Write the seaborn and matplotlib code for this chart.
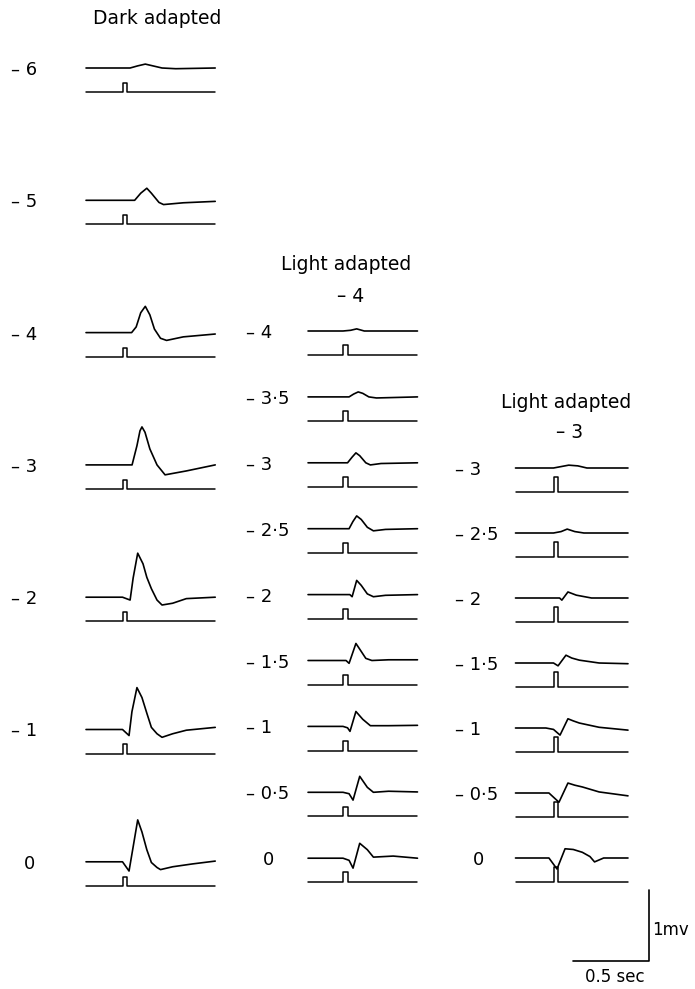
import matplotlib
matplotlib.use("Agg")
import matplotlib.pyplot as plt
import seaborn as sns

# intensity of the test flash (log units) for each trace
dark_labels = ["– 6", "– 5", "– 4", "– 3", "– 2", "– 1", "0"]
light4_labels = ["– 4", "– 3·5", "– 3", "– 2·5", "– 2", "– 1·5", "– 1", "– 0·5", "0"]
light3_labels = ["– 3", "– 2·5", "– 2", "– 1·5", "– 1", "– 0·5", "0"]

# ERG traces: time after flash (s) and potential (mV)
dark_t = [
    [-0.24, 0.0, 0.05, 0.10, 0.15, 0.20, 0.26, 0.35, 0.61],
    [-0.24, 0.0, 0.08, 0.12, 0.16, 0.19, 0.24, 0.27, 0.40, 0.61],
    [-0.24, 0.0, 0.06, 0.09, 0.12, 0.15, 0.18, 0.21, 0.25, 0.29, 0.40, 0.61],
    [-0.24, 0.0, 0.063, 0.095, 0.115, 0.128, 0.148, 0.18, 0.227, 0.28, 0.42, 0.61],
    [-0.24, 0.0, 0.05, 0.07, 0.10, 0.135, 0.16, 0.19, 0.227, 0.26, 0.33, 0.42, 0.61],
    [-0.24, 0.0, 0.043, 0.062, 0.095, 0.128, 0.16, 0.19, 0.227, 0.26, 0.33, 0.42, 0.61],
    [-0.24, 0.0, 0.043, 0.07, 0.10, 0.128, 0.16, 0.19, 0.227, 0.25, 0.33, 0.46, 0.61],
]
dark_mv = [
    [0, 0, 0.0, 0.03, 0.055, 0.03, 0.0, -0.01, 0.0],
    [0, 0, 0.0, 0.10, 0.17, 0.10, -0.03, -0.06, -0.035, -0.015],
    [0, 0, 0.0, 0.08, 0.28, 0.37, 0.25, 0.05, -0.08, -0.11, -0.06, -0.02],
    [0, 0, 0.0, 0.27, 0.48, 0.535, 0.46, 0.225, 0.0, -0.14, -0.085, 0.0],
    [0, 0, -0.04, 0.27, 0.62, 0.47, 0.28, 0.12, -0.04, -0.11, -0.085, -0.02, 0.0],
    [0, 0, -0.085, 0.25, 0.59, 0.45, 0.23, 0.03, -0.06, -0.11, -0.06, -0.01, 0.03],
    [0, 0, -0.13, 0.21, 0.59, 0.42, 0.17, -0.01, -0.08, -0.11, -0.07, -0.03, 0.01],
]

light4_t = [
    [-0.23, 0.0, 0.05, 0.09, 0.14, 0.49],
    [-0.23, 0.0, 0.04, 0.07, 0.10, 0.13, 0.17, 0.22, 0.49],
    [-0.23, 0.0, 0.03, 0.06, 0.085, 0.11, 0.15, 0.18, 0.25, 0.49],
    [-0.23, 0.0, 0.04, 0.065, 0.09, 0.12, 0.16, 0.20, 0.28, 0.49],
    [-0.23, 0.0, 0.045, 0.06, 0.09, 0.12, 0.16, 0.20, 0.28, 0.49],
    [-0.23, 0.0, 0.02, 0.04, 0.085, 0.11, 0.15, 0.19, 0.30, 0.49],
    [-0.23, 0.0, 0.03, 0.046, 0.085, 0.13, 0.18, 0.30, 0.49],
    [-0.23, 0.0, 0.04, 0.066, 0.11, 0.16, 0.20, 0.30, 0.49],
    [-0.23, 0.0, 0.04, 0.066, 0.11, 0.16, 0.20, 0.33, 0.49],
]
light4_mv = [
    [0, 0, 0.01, 0.03, 0.0, 0.0],
    [0, 0, 0.0, 0.04, 0.07, 0.05, 0.0, -0.015, 0.0],
    [0, 0, 0.0, 0.08, 0.14, 0.10, 0.0, -0.03, -0.01, 0.0],
    [0, 0, 0.0, 0.10, 0.18, 0.13, 0.02, -0.03, -0.01, 0.0],
    [0, 0, 0.0, -0.03, 0.20, 0.13, 0.01, -0.03, -0.01, 0.0],
    [0, 0, 0.0, -0.04, 0.24, 0.16, 0.03, 0.0, 0.01, 0.01],
    [0, 0, -0.02, -0.07, 0.21, 0.10, 0.01, 0.01, 0.015],
    [0, 0, -0.02, -0.11, 0.225, 0.07, 0.0, 0.015, 0.005],
    [0, 0, -0.03, -0.14, 0.21, 0.12, 0.015, 0.03, 0.0],
]

light3_t = [
    [-0.25, 0.0, 0.05, 0.10, 0.16, 0.22, 0.49],
    [-0.25, 0.0, 0.05, 0.09, 0.14, 0.20, 0.49],
    [-0.25, 0.0, 0.04, 0.055, 0.095, 0.15, 0.25, 0.49],
    [-0.25, 0.0, 0.03, 0.082, 0.12, 0.17, 0.30, 0.49],
    [-0.25, -0.05, 0.0, 0.043, 0.095, 0.13, 0.17, 0.30, 0.49],
    [-0.25, -0.03, 0.036, 0.095, 0.14, 0.19, 0.30, 0.49],
    [-0.25, -0.03, 0.023, 0.076, 0.13, 0.19, 0.24, 0.27, 0.33, 0.49],
]
light3_mv = [
    [0, 0, 0.02, 0.04, 0.03, 0.0, 0.0],
    [0, 0, 0.02, 0.055, 0.02, 0.0, 0.0],
    [0, 0, 0.0, -0.03, 0.085, 0.04, 0.0, 0.0],
    [0, 0, -0.04, 0.11, 0.07, 0.04, 0.0, -0.01],
    [0, 0, -0.02, -0.10, 0.13, 0.10, 0.07, 0.01, -0.03],
    [0, 0, -0.13, 0.14, 0.11, 0.085, 0.015, -0.04],
    [0, 0, -0.155, 0.13, 0.12, 0.08, 0.02, -0.055, 0.0, 0.0],
]

flash_dur = 0.03      # s
scale_sec = 0.5
scale_mv = 1.0

# --- layout (pixels) ---
W, H = 695, 989
PX_PER_S = 152
PX_PER_MV = 71
Y_LO, Y_HI = -0.6, 0.8      # mV range of each small axes
STIM_OFFSET = -0.34         # marker line below the trace (mV units)
LW = 1.2
FS = 13

sns.set_theme(style="white")
plt.rcParams["font.family"] = ["DejaVu Sans"]
plt.rcParams["text.color"] = "black"

fig = plt.figure(figsize=(W / 100, H / 100), dpi=100)


def px_axes(left, top, width, height):
    ax = fig.add_axes([left / W, 1 - (top + height) / H, width / W, height / H])
    ax.set_axis_off()
    ax.patch.set_alpha(0)
    return ax


def draw_column(times, volts, labels, flash_x, y0, dy, label_x, zero_x, pulse_h):
    t0, t1 = times[0][0], times[0][-1]
    for i, (t, mv, lab) in enumerate(zip(times, volts, labels)):
        base = y0 + i * dy
        ax = px_axes(flash_x + t0 * PX_PER_S, base - Y_HI * PX_PER_MV,
                     (t1 - t0) * PX_PER_S, (Y_HI - Y_LO) * PX_PER_MV)
        sns.lineplot(x=t, y=mv, ax=ax, color="black", lw=LW, sort=False,
                     estimator=None, clip_on=False)
        # stimulus marker
        st = [t0, 0.0, 0.0, flash_dur, flash_dur, t1]
        sy = [0, 0, pulse_h, pulse_h, 0, 0]
        sns.lineplot(x=st, y=[STIM_OFFSET + v for v in sy], ax=ax, color="black",
                     lw=LW * 0.9, sort=False, estimator=None, clip_on=False)
        ax.set_xlim(t0, t1)
        ax.set_ylim(Y_LO, Y_HI)
        if lab == "0":
            fig.text(zero_x / W, 1 - (base + 2) / H, lab, ha="center", va="center", fontsize=FS)
        else:
            fig.text(label_x / W, 1 - (base + 2) / H, lab, ha="left", va="center", fontsize=FS)


draw_column(dark_t, dark_mv, dark_labels, 122.5, 68, 132.3, 11, 29, 0.13)
draw_column(light4_t, light4_mv, light4_labels, 343, 331, 65.9, 246, 268, 0.14)
draw_column(light3_t, light3_mv, light3_labels, 553.5, 468, 65, 455, 478, 0.21)

# headings
fig.text(157 / W, 1 - 18 / H, "Dark adapted", ha="center", va="center", fontsize=13.5)
fig.text(346 / W, 1 - 265 / H, "Light adapted", ha="center", va="center", fontsize=13.5)
fig.text(351 / W, 1 - 297 / H, "– 4", ha="center", va="center", fontsize=13.5)
fig.text(566 / W, 1 - 402 / H, "Light adapted", ha="center", va="center", fontsize=13.5)
fig.text(570 / W, 1 - 432 / H, "– 3", ha="center", va="center", fontsize=13.5)

# calibration bars
corner_x, corner_y = 649, 961
sax = px_axes(corner_x - scale_sec * PX_PER_S, corner_y - scale_mv * PX_PER_MV,
              scale_sec * PX_PER_S, scale_mv * PX_PER_MV)
sns.lineplot(x=[0, scale_sec, scale_sec], y=[0, 0, scale_mv], ax=sax, color="black",
             lw=LW, sort=False, estimator=None, clip_on=False)
sax.set_xlim(0, scale_sec)
sax.set_ylim(0, scale_mv)
fig.text(652 / W, 1 - 930 / H, "1mv", ha="left", va="center", fontsize=12)
fig.text(615 / W, 1 - 977 / H, "0.5 sec", ha="center", va="center", fontsize=12)

fig.savefig("out.png", dpi=100)
